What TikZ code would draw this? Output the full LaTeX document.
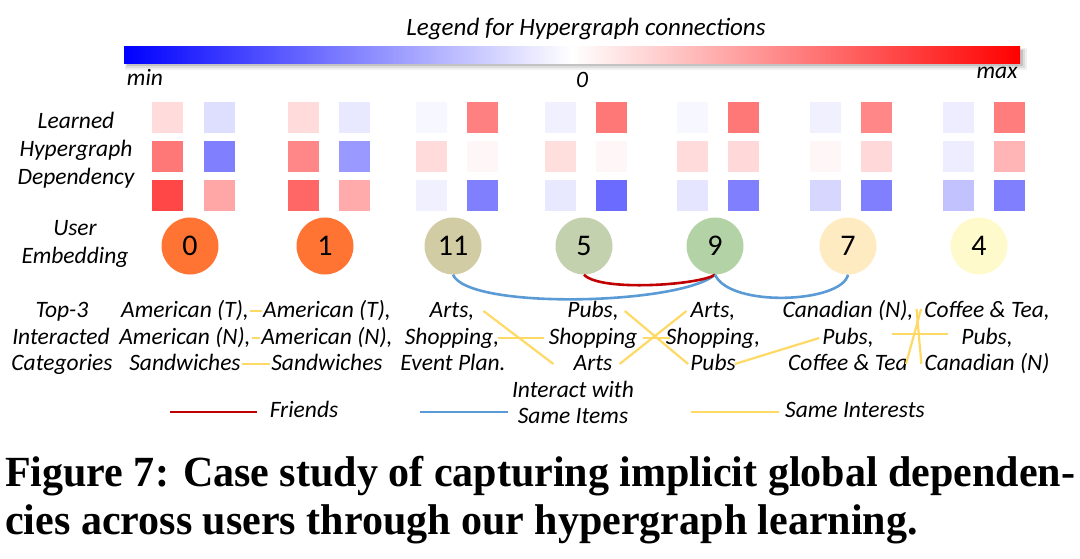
\documentclass[tikz,border=0pt]{standalone}
\usepackage{fontspec}
\setmainfont{Carlito}
\newfontfamily\capfont{Liberation Serif}
\usetikzlibrary{calc}
\definecolor{legblue}{HTML}{5B9BD5}
\definecolor{legred}{HTML}{C00000}
\definecolor{legyel}{HTML}{FFD966}
\definecolor{uorange}{HTML}{FF7433}
\definecolor{ukhaki}{HTML}{D1CCA3}
\definecolor{usage}{HTML}{C4D1AE}
\definecolor{ugreen}{HTML}{B3D3A6}
\definecolor{upeach}{HTML}{FFEBC2}
\definecolor{uyellow}{HTML}{FFFACC}
\newsavebox\capboxA
\newlength\capwA
\begin{document}
\sbox\capboxA{\capfont\bfseries\fontsize{43}{49}\selectfont Figure 7: Case study of capturing implicit global dependen-}%
\setlength\capwA{\wd\capboxA}%
\begin{tikzpicture}[x=1pt,y=-1pt,
  lab/.style={font=\fontsize{23.5}{27}\selectfont\itshape, inner sep=1pt, text height=16pt, text depth=4pt},
  sq/.style={minimum size=31pt, inner sep=0pt, draw=none},
  user/.style={circle, minimum size=57pt, inner sep=0pt, font=\fontsize{30}{32}\selectfont},
  yl/.style={legyel, line width=2.2pt},
  bl/.style={legblue, line width=2.6pt},
  rl/.style={legred, line width=2.6pt}]
\useasboundingbox (0,0) rectangle (1080,559);
% ---------- colour legend
\node[lab, font=\fontsize{25}{28}\selectfont\itshape] (title) at (586,30) {Legend for Hypergraph connections};
\fill[black, opacity=0.06] (125,48) rectangle (1027,70);
\fill[black, opacity=0.08] (126,49) rectangle (1025,68);
\fill[black, opacity=0.12] (127,50) rectangle (1023,66);
\shade[left color=blue, right color=red, middle color=white] (124,47) rectangle (1020,64);
\node[lab] (min) at (145,80) {min};
\node[lab] (zero) at (582,82) {0};
\node[lab] (max) at (997,73) {max};
% ---------- row labels
\node[lab] (l1) at (76,123) {Learned};
\node[lab] (l2) at (76,151) {Hypergraph};
\node[lab] (l3) at (76,179) {Dependency};
\node[lab] (l4) at (75,230) {User};
\node[lab] (l5) at (75,257) {Embedding};
\node[lab] (l6) at (62,311) {Top-3};
\node[lab] (l7) at (61,338) {Interacted};
\node[lab] (l8) at (62,364) {Categories};
% ---------- heat squares
\foreach \n/\x/\y/\c in {
  a1/167/118/red!14, a2/219/118/blue!13, a3/167/157/red!53, a4/219/157/blue!50, a5/167/196/red!72, a6/219/196/red!35,
  b1/303/118/red!14, b2/354/118/blue!9,  b3/303/157/red!47, b4/354/157/blue!40, b5/303/196/red!60, b6/354/196/red!33,
  c1/431/118/blue!3, c2/482/118/red!50,  c3/431/157/red!14, c4/482/157/red!3,   c5/431/196/blue!6, c6/482/196/blue!50,
  d1/560/118/blue!6, d2/611/118/red!53,  d3/560/157/red!13, d4/611/157/red!3,   d5/560/196/blue!9, d6/611/196/blue!58,
  e1/692/118/blue!3, e2/743/118/red!53,  e3/692/157/red!14, e4/743/157/red!15,  e5/692/196/blue!10, e6/743/196/blue!50,
  f1/825/118/blue!6, f2/876/118/red!47,  f3/825/157/red!3,  f4/876/157/red!15,  f5/825/196/blue!16, f6/876/196/blue!50,
  g1/958/118/blue!7, g2/1009/118/red!51, g3/958/157/blue!7, g4/1009/157/red!29,  g5/958/196/blue!24, g6/1009/196/blue!50}
  \node[sq, fill=\c] (sq\n) at (\x,\y) {};
% ---------- users
\node[user, fill=uorange] (u0) at (190,246) {0};
\node[user, fill=uorange] (u1) at (325,246) {1};
\node[user, fill=ukhaki] (u11) at (453,246) {11};
\node[user, fill=usage] (u5) at (584,246) {5};
\node[user, fill=ugreen] (u9) at (715,246) {9};
\node[user, fill=upeach] (u7) at (848,246) {7};
\node[user, fill=uyellow] (u4) at (979,246) {4};
% ---------- relations between users
\draw[bl] (u11.south) .. controls (468,310) and (680,305) .. (u9.south);
\draw[rl] (u5.south) .. controls (600,292) and (700,285) .. (u9.south);
\draw[bl] (u9.south) .. controls (730,308) and (842,303) .. (u7.south);
% ---------- categories
\node[lab] (A1) at (185,311) {American (T),};
\node[lab] (A2) at (185,338) {American (N),};
\node[lab] (A3) at (185,364) {Sandwiches};
\node[lab] (B1) at (327,311) {American (T),};
\node[lab] (B2) at (327,338) {American (N),};
\node[lab] (B3) at (327,364) {Sandwiches};
\node[lab] (C1) at (452,311) {Arts,};
\node[lab] (C2) at (452,338) {Shopping,};
\node[lab] (C3) at (453,364) {Event Plan.};
\node[lab] (D1) at (593,311) {Pubs,};
\node[lab] (D2) at (593,338) {Shopping};
\node[lab] (D3) at (593,364) {Arts};
\node[lab] (E1) at (713,311) {Arts,};
\node[lab] (E2) at (713,338) {Shopping,};
\node[lab] (E3) at (713,364) {Pubs};
\node[lab] (F1) at (848,311) {Canadian (N),};
\node[lab] (F2) at (848,338) {Pubs,};
\node[lab] (F3) at (848,364) {Coffee \& Tea};
\node[lab] (G1) at (987,311) {Coffee \& Tea,};
\node[lab] (G2) at (987,338) {Pubs,};
\node[lab] (G3) at (987,364) {Canadian (N)};
% ---------- same interests
\draw[yl] (A1.east) -- (B1.west);
\draw[yl] (A2.east) -- (B2.west);
\draw[yl] (A3.east) -- (B3.west);
\draw[yl] ([xshift=8pt]C1.east) -- ([xshift=-19pt]D3.west);
\draw[yl] ([xshift=-2pt]C2.east) -- ([xshift=-4pt]D2.west);
\draw[yl] ([xshift=5pt]D1.east) -- ([xshift=-1pt]E3.west);
\draw[yl] ([xshift=6pt]D3.east) -- ([xshift=-3pt]E1.west);
\draw[yl] ([xshift=5pt]D2.east) -- ([xshift=5pt]E2.west);
\draw[yl] ([xshift=-2pt]E3.east) -- ([xshift=-2pt]F2.west);
\draw[yl] ([xshift=2pt,yshift=2pt]F1.east) -- ([xshift=-2pt]G3.west);
\draw[yl] ([xshift=-3pt]F3.east) -- ([xshift=-2pt,yshift=2pt]G1.west);
\draw[yl] ([xshift=17pt,yshift=4pt]F2.east) -- ([xshift=-12pt,yshift=4pt]G2.west);
% ---------- legend
\coordinate (fr1) at (170,412);
\coordinate (fr2) at (257,412);
\draw[rl] (fr1) -- (fr2);
\node[lab] (friends) at (304,411) {Friends};
\coordinate (it1) at (420,412);
\coordinate (it2) at (508,412);
\draw[bl] (it1) -- (it2);
\node[lab] (inter1) at (573,391) {Interact with};
\node[lab] (inter2) at (573,417) {Same Items};
\coordinate (si1) at (691,412);
\coordinate (si2) at (779,412);
\draw[yl] (si1) -- (si2);
\node[lab] (same) at (855,411) {Same Interests};
% ---------- caption
\pgfmathsetmacro\capsx{1070/\capwA}
\node[anchor=base west, inner sep=0pt] (cap1) at (5,486) {\scalebox{\capsx}[1]{\usebox\capboxA}};
\node[anchor=base west, inner sep=0pt] (cap2) at (5,534) {\scalebox{\capsx}[1]{\capfont\bfseries\fontsize{43}{49}\selectfont cies across users through our hypergraph learning.}};
\end{tikzpicture}
\end{document}
